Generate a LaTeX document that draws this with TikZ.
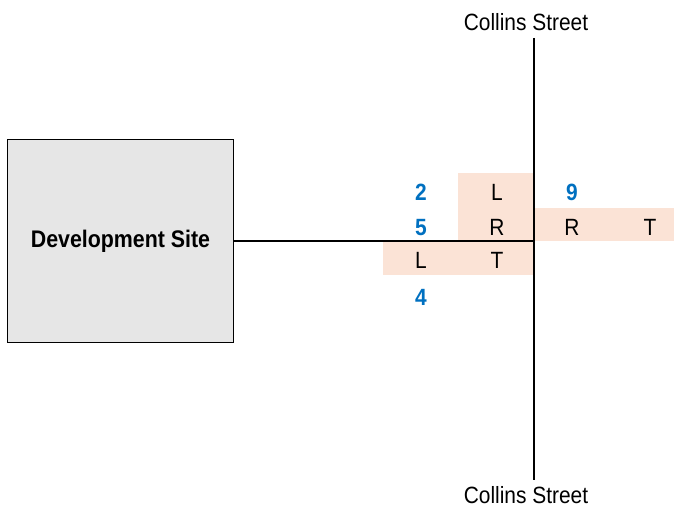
\documentclass[tikz,border=0pt]{standalone}
\usepackage{fontspec}
\setmainfont{Liberation Sans}[FakeStretch=0.89]
\definecolor{laneshade}{HTML}{FBE3D6}
\definecolor{countblue}{HTML}{0070C0}
\definecolor{sitegray}{HTML}{E6E6E6}
\begin{document}
\begin{tikzpicture}[x=1pt,y=-1pt,
  road/.style={line width=1.8pt,black},
  shade/.style={fill=laneshade,draw=none},
  move/.style={font=\fontsize{23.5}{26}\selectfont,inner sep=0pt,anchor=base},
  count/.style={font=\fontsize{23.5}{26}\selectfont\bfseries,text=countblue,inner sep=0pt,anchor=base},
  street/.style={font=\fontsize{23.5}{26}\selectfont,inner sep=0pt,anchor=base},
  site/.style={draw=black,line width=1.8pt,fill=sitegray,minimum width=226pt,minimum height=203pt,
    font=\fontsize{24}{26}\selectfont\bfseries,inner sep=0pt}]
\useasboundingbox (0,0) rectangle (674,508);
% approach lane shading
\fill[shade] (457.5,172.5) rectangle (534,241);
\fill[shade] (534,207.5) rectangle (674,241);
\fill[shade] (383,241) rectangle (534,275);
% development site
\node[site] (dev) at (120.5,241) {\raisebox{-2pt}{Development Site}};
% street nodes
\node[street] (cnorth) at (526,31) {Collins Street};
\node[street] (csouth) at (526,503.5) {Collins Street};
\coordinate (ntop) at (534,38);
\coordinate (sbot) at (534,480);
\coordinate (jn) at (534,241);
\draw[road] (ntop) -- (sbot);
\draw[road] (dev.east) -- (jn);
% turning movements
\node[move] (wl) at (497,200.5) {L};
\node[move] (wr) at (497,235.5) {R};
\node[move] (sl) at (421,268.5) {L};
\node[move] (st) at (497,268.5) {T};
\node[move] (nr) at (572,235.5) {R};
\node[move] (nt) at (650,235.5) {T};
% volumes
\node[count] (c2) at (421,200.5) {2};
\node[count] (c5) at (421,235.5) {5};
\node[count] (c4) at (421,305.5) {4};
\node[count] (c9) at (572,200.5) {9};
\end{tikzpicture}
\end{document}
